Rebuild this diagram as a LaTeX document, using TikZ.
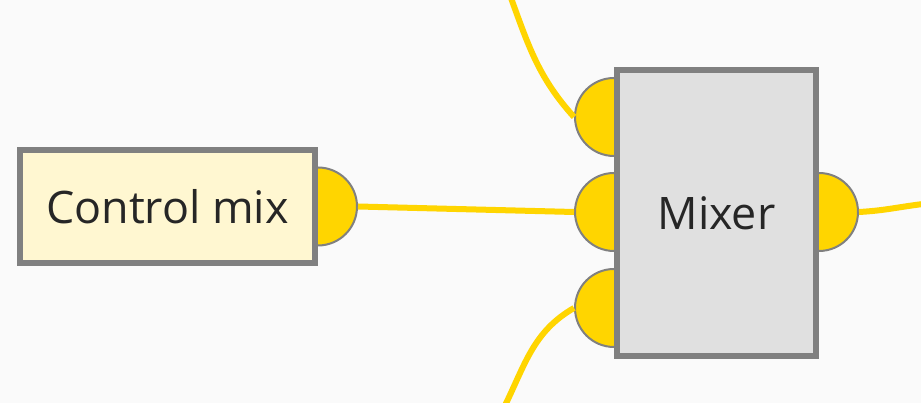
\documentclass[tikz,border=0pt]{standalone}
\usepackage{fontspec}
\setmainfont{Open Sans}
\usetikzlibrary{positioning,backgrounds}

\definecolor{boxline}{HTML}{808080}
\definecolor{ctrlfill}{HTML}{FFF7D1}
\definecolor{mixfill}{HTML}{E0E0E0}
\definecolor{wire}{HTML}{FFD500}
\definecolor{canvas}{HTML}{FAFAFA}

\begin{document}
\begin{tikzpicture}[
  blk/.style={rectangle, draw=boxline, line width=0.12cm, text=black!85,
    align=center, font=\fontsize{25.5}{30}\selectfont},
  port/.style={circle, draw=boxline, line width=0.04cm, fill=wire,
    minimum size=1.56cm, inner sep=0pt},
  wireline/.style={draw=wire, line width=0.12cm}
]
  \useasboundingbox (0,0) rectangle (18.42,8.06);

  \node[blk, fill=ctrlfill, minimum width=5.9cm, minimum height=2.26cm] (ctrl) at (3.35,3.93) {Control mix};
  \node[blk, fill=mixfill, minimum width=3.98cm, minimum height=5.72cm] (mixer) at (14.33,3.80) {Mixer};

  % canvas and ports sit behind the blocks
  \begin{pgfonlayer}{background}
    \fill[canvas] (0,0) rectangle (18.42,8.06);
    \node[port] (ctrlout) at (ctrl.east) {};
    \node[port] (mixin1) at ([yshift=1.92cm]mixer.west) {};
    \node[port] (mixin2) at ([yshift=0.02cm]mixer.west) {};
    \node[port] (mixin3) at ([yshift=-1.9cm]mixer.west) {};
    \node[port] (mixout) at ([yshift=0.02cm]mixer.east) {};
  \end{pgfonlayer}

  \coordinate (topend) at (10.22,8.1);
  \coordinate (botend) at (10.1,-0.05);
  \coordinate (rightend) at (18.46,3.98);

  \draw[wireline] (ctrlout.east) -- (mixin2.west);
  \draw[wireline] (topend) to[out=-70,in=132] (mixin1.west);
  \draw[wireline] (mixin3.west) to[out=210,in=64] (botend);
  \draw[wireline] (mixout.east) to[out=3,in=187] (rightend);
\end{tikzpicture}
\end{document}
